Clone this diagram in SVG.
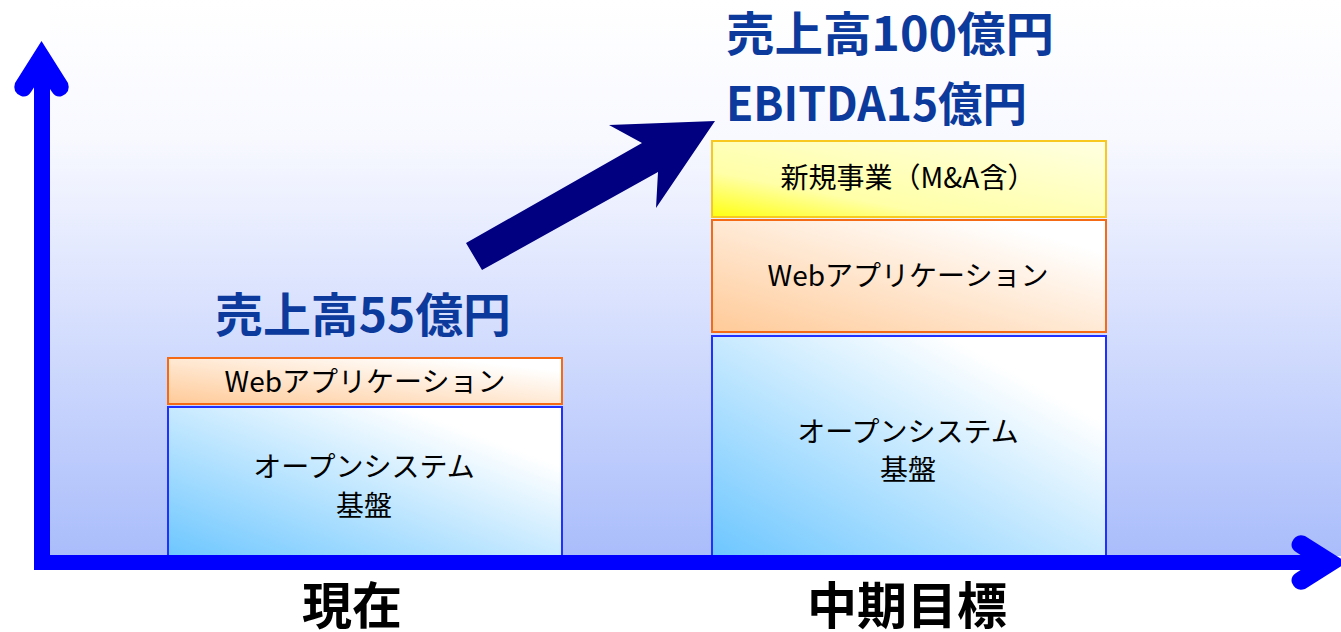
<svg xmlns="http://www.w3.org/2000/svg" width="1341" height="632" viewBox="0 0 1341 632">
<style>
.box{font-family:"Noto Sans CJK JP","Noto Sans",sans-serif;font-size:28px;fill:#000;text-anchor:middle}
.title{font-family:"Noto Sans CJK JP","Noto Sans",sans-serif;font-size:47px;font-weight:bold;fill:#0b3a9c}
.axlabel{font-family:"Noto Sans CJK JP",sans-serif;font-size:50px;font-weight:bold;fill:#000;text-anchor:middle}
.blue{stroke:#2030ff;stroke-width:2;fill:url(#gBlue)}
.orange{stroke:#f56a14;stroke-width:2;fill:url(#gOrange)}
.yellow{stroke:#f8c820;stroke-width:2;fill:url(#gYellow)}
.axis{fill:#0000ff}
</style>
<defs>
<linearGradient id="gBg" x1="0" y1="0" x2="0" y2="1">
<stop offset="0" stop-color="#ffffff"/>
<stop offset="0.25" stop-color="#f8f9ff"/>
<stop offset="1" stop-color="#aabdfb"/>
</linearGradient>
<linearGradient id="gBlue" x1="0" y1="1" x2="1" y2="0">
<stop offset="0" stop-color="#6cc6ff"/>
<stop offset="0.8" stop-color="#ffffff"/>
<stop offset="1" stop-color="#ffffff"/>
</linearGradient>
<linearGradient id="gOrange" x1="0" y1="1" x2="1" y2="0">
<stop offset="0" stop-color="#ffca98"/>
<stop offset="0.85" stop-color="#ffffff"/>
<stop offset="1" stop-color="#ffffff"/>
</linearGradient>
<linearGradient id="gYellow" x1="0" y1="1" x2="1" y2="0">
<stop offset="0" stop-color="#ffff10"/>
<stop offset="0.3" stop-color="#ffffa8"/>
<stop offset="1" stop-color="#ffffe2"/>
</linearGradient>
<path id="head" d="M0,0 L26.5,42 Q29.5,51 20.5,55 Q14.5,57 10.5,51 L0,35 L-10.5,51 Q-14.5,57 -20.5,55 Q-29.5,51 -26.5,42 Z"/>
</defs>
<rect x="0" y="0" width="1341" height="632" fill="#ffffff"/>
<rect x="50" y="0" width="1291" height="556" fill="url(#gBg)"/>

<g id="current-web">
<rect class="orange" x="168" y="358" width="394" height="46"/>
<text class="box" x="365" y="392">Webアプリケーション</text>
</g>
<g id="current-open">
<rect class="blue" x="168" y="407" width="394" height="150"/>
<text class="box" x="364" y="477">オープンシステム</text>
<text class="box" x="364" y="516">基盤</text>
</g>

<g id="target-new">
<rect class="yellow" x="712" y="141" width="394" height="76"/>
<text class="box" x="908" y="188">新規事業（M&amp;A含）</text>
</g>
<g id="target-web">
<rect class="orange" x="712" y="220" width="394" height="112"/>
<text class="box" x="908" y="286">Webアプリケーション</text>
</g>
<g id="target-open">
<rect class="blue" x="712" y="336" width="394" height="221"/>
<text class="box" x="908" y="442">オープンシステム</text>
<text class="box" x="908" y="480">基盤</text>
</g>

<g id="label-current-sales">
<text class="title" x="215" y="332" textLength="296" lengthAdjust="spacingAndGlyphs">売上高55億円</text>
</g>
<g id="label-target-sales">
<text class="title" x="726" y="51" textLength="328" lengthAdjust="spacingAndGlyphs">売上高100億円</text>
<text class="title" x="726" y="121" textLength="301" lengthAdjust="spacingAndGlyphs">EBITDA15億円</text>
</g>

<g id="connectors">
<polygon points="466,243 642,143 609,125 715,121 656,208 658,172 482,270" fill="#000080"/>
</g>

<g id="axes">
<rect class="axis" x="34" y="70" width="16" height="500"/>
<use href="#head" class="axis" transform="translate(41.5,41)"/>
<rect class="axis" x="34" y="555" width="1290" height="15"/>
<use href="#head" class="axis" transform="translate(1347,562.5) rotate(90)"/>
</g>

<g id="axis-labels">
<text class="axlabel" x="352" y="624">現在</text>
<text class="axlabel" x="907" y="624">中期目標</text>
</g>
</svg>
